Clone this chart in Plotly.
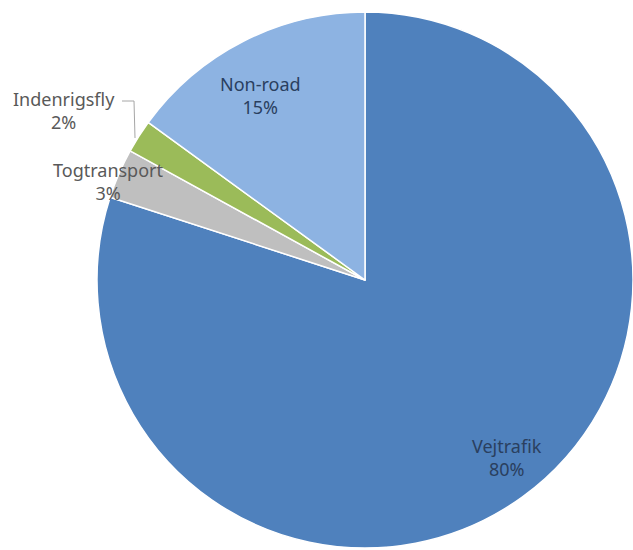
import plotly.graph_objects as go

W, H = 633, 550

categories = ["Vejtrafik", "Togtransport", "Indenrigsfly", "Non-road"]
values = [80, 3, 2, 15]
colors = ["#4F81BD", "#BFBFBF", "#9BBB59", "#8DB3E2"]

# label placements (pixel coords) and colours
label_pos = {
    "Vejtrafik": (507, 457, "#2A3F5F"),
    "Togtransport": (108, 181, "#595959"),
    "Indenrigsfly": (64, 111, "#595959"),
    "Non-road": (260, 95, "#2A3F5F"),
}

fig = go.Figure(go.Pie(
    labels=categories,
    values=values,
    sort=False,
    direction="clockwise",
    rotation=0,
    marker=dict(colors=colors, line=dict(color="white", width=1.5)),
    textinfo="none",
    hoverinfo="label+percent",
    showlegend=False,
    domain=dict(x=[97 / W, 1.0], y=[2 / H, 538 / H]),
))

total = sum(values)
for cat, v in zip(categories, values):
    px, py, col = label_pos[cat]
    fig.add_annotation(
        x=px / W, y=1 - py / H, xref="paper", yref="paper",
        xanchor="center", yanchor="middle",
        text=f"{cat}<br>{round(100 * v / total)}%",
        showarrow=False, align="center",
        font=dict(family="Noto Sans", size=18, color=col),
    )

# leader line for Indenrigsfly
fig.add_shape(
    type="path", xref="paper", yref="paper",
    path=f"M {122 / W} {1 - 101 / H} L {134 / W} {1 - 101 / H} L {135 / W} {1 - 138 / H}",
    line=dict(color="#A6A6A6", width=1),
)

fig.update_layout(
    width=W, height=H,
    margin=dict(l=0, r=0, t=0, b=0),
    paper_bgcolor="white", plot_bgcolor="white",
)

fig.write_html(
    "out.html",
    config={"displayModeBar": False},
    post_script="document.body.style.margin='0';document.body.style.overflow='hidden';",
)
